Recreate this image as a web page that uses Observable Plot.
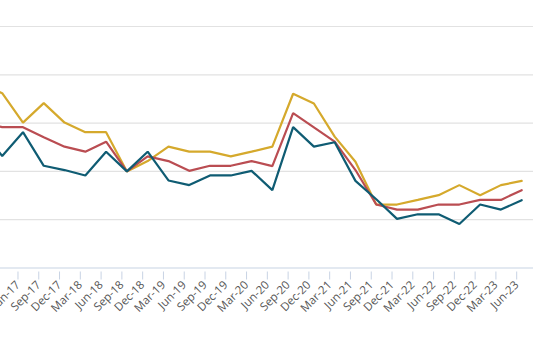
<!DOCTYPE html>
<html>
<head>
<meta charset="utf-8">
<script src="https://cdn.jsdelivr.net/npm/d3@7"></script>
<script src="https://cdn.jsdelivr.net/npm/@observablehq/plot@0.6"></script>
<style>
  html, body { margin: 0; padding: 0; background: #fff; overflow: hidden; }
  #chart { width: 533px; height: 337px; }
</style>
</head>
<body>
<div id="chart"></div>
<script>
const quarters = ["Dec-16","Mar-17","Jun-17","Sep-17","Dec-17","Mar-18","Jun-18","Sep-18","Dec-18","Mar-19","Jun-19","Sep-19","Dec-19","Mar-20","Jun-20","Sep-20","Dec-20","Mar-21","Jun-21","Sep-21","Dec-21","Mar-22","Jun-22","Sep-22","Dec-22","Mar-23","Jun-23"];
const tickLabels = quarters.slice(1);
const seriesNames = ["Series A", "Series B", "Series C"];
const seriesA = [190, 181, 150.5, 170.7, 150.5, 140.6, 140.6, 100, 110.7, 125.6, 120.4, 120.4, 115.6, 120.4, 125.6, 180.4, 170.3, 136, 110, 65.7, 65.7, 70.5, 75.4, 85.8, 75.4, 85.8, 90.2];
const seriesB = [151.3, 145.8, 145.8, 135.4, 125.6, 120.4, 130.8, 100, 115.6, 110.7, 100.6, 105.8, 105.8, 110.7, 105.5, 160.3, 145.6, 130.8, 101.4, 65.7, 60.5, 60.5, 65.7, 65.7, 70.5, 70.5, 80.6];
const seriesC = [143, 115.9, 140.6, 105.8, 101.4, 95.8, 120.4, 100, 120.4, 90.6, 85.8, 95.8, 95.8, 100.6, 80.6, 145.8, 125.6, 130.2, 90.2, 71.2, 50.9, 55.6, 55.6, 45.5, 65.7, 60.5, 70.2];
const colors = ["#D5A92C", "#BA4D52", "#0F5C73"];
const gridValues = [50, 100, 150, 200, 250];

const rows = [];
[seriesA, seriesB, seriesC].forEach((s, k) => {
  s.forEach((v, i) => rows.push({series: seriesNames[k], quarter: quarters[i], value: v}));
});

const step = 20.78;
const chart = Plot.plot({
  width: 533,
  height: 337,
  marginTop: 26,
  marginBottom: 69.5,
  marginLeft: 0,
  marginRight: 0,
  style: {fontFamily: "'Open Sans', sans-serif", fontSize: "11.5px", background: "#fff"},
  x: {type: "point", padding: 0, align: 0, round: false, domain: quarters, range: [1.7 - step, 1.7 + step * (quarters.length - 2)]},
  y: {domain: [0, 250]},
  color: {domain: seriesNames, range: colors},
  marks: [
    Plot.ruleY(gridValues, {stroke: "#e2e2e2", strokeWidth: 1.2}),
    Plot.ruleY([0], {stroke: "#c8d3e4", strokeWidth: 1.2}),
    Plot.axisX({ticks: tickLabels, tickSize: 8, tickRotate: -45, tickPadding: 3, dx: -5, dy: 4, stroke: "#c8d3e4", fill: "#555555", strokeOpacity: 1, label: null}),
    Plot.axisY({ticks: [], label: null, tickSize: 0}),
    Plot.line(rows, {x: "quarter", y: "value", z: "series", stroke: "series", strokeWidth: 2.2, strokeLinejoin: "miter"})
  ]
});
document.getElementById("chart").append(chart);
</script>
</body>
</html>
